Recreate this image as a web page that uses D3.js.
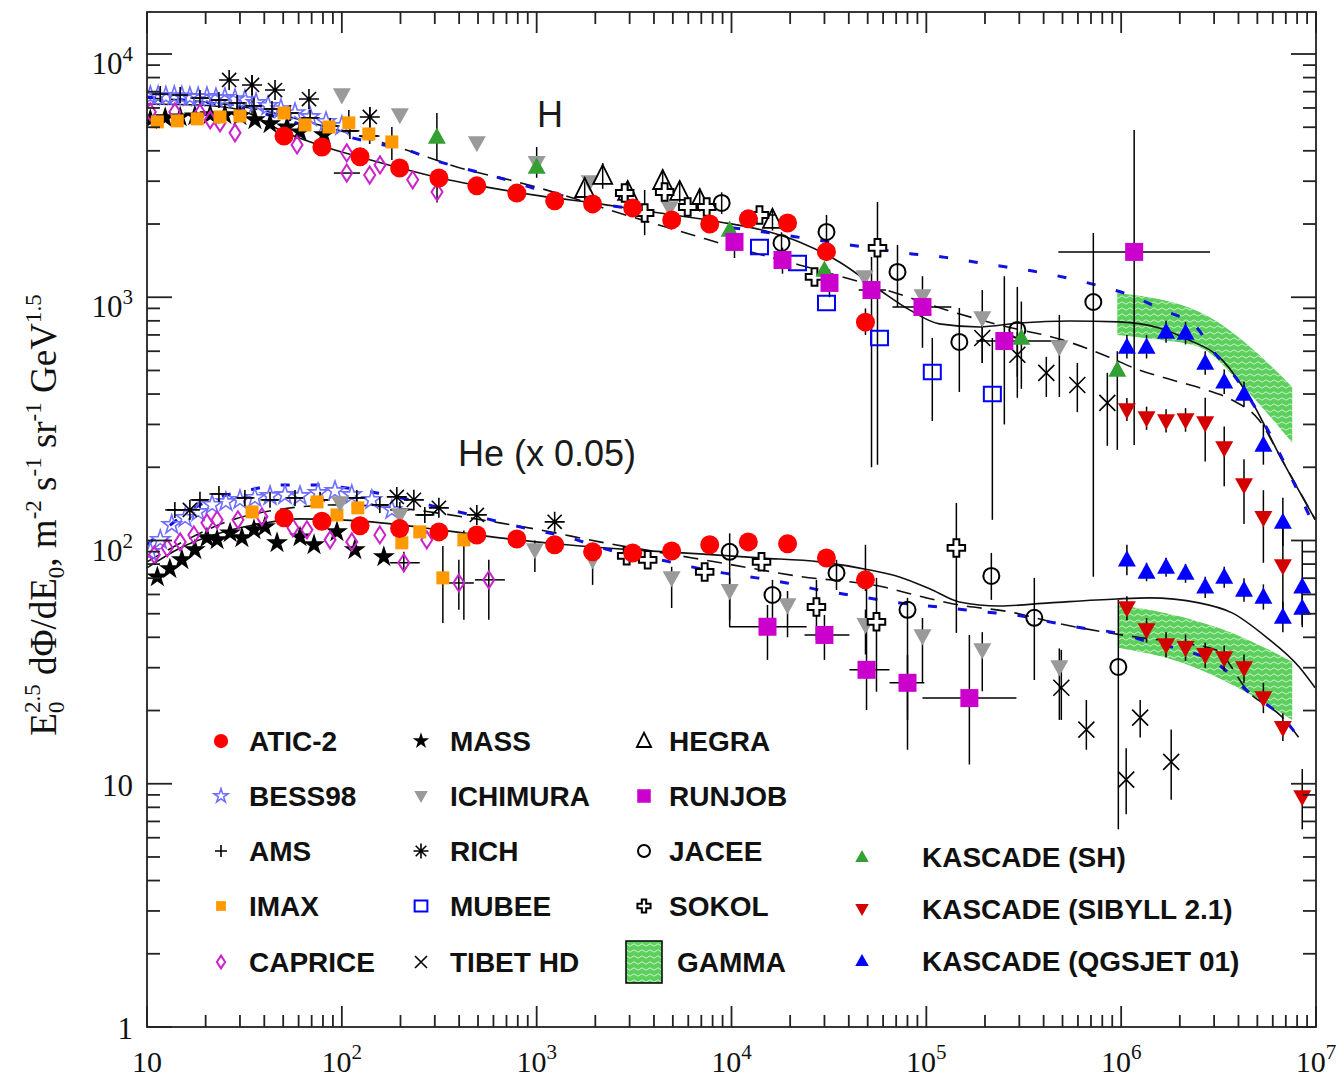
<!DOCTYPE html>
<html><head><meta charset="utf-8">
<script src="https://cdn.jsdelivr.net/npm/d3@7"></script>
<style>body{margin:0;background:#fff}</style>
</head><body>
<svg id="chart" width="1344" height="1082"></svg>
<script>
// Proton (H) and helium (He, scaled x 0.05) spectra, E^2.5 dPhi/dE in m^-2 s^-1 sr^-1 GeV^1.5
// point layout: [E (GeV), flux, fluxLow, fluxHigh, eLow, eHigh]

const xTickPowers = [1, 2, 3, 4, 5, 6, 7];
const yTickPowers = [0, 1, 2, 3, 4];

const aticH = [[50.5,4600],[79,4150],[124,3780],[198,3400],[315,3090],[493,2870],[791,2680],[1237,2490],[1937,2420],[3110,2330],[4930,2080],[7730,2000],[12200,2100],[19400,2020,1880,2180],[30700,1540,1420,1690],[48700,790,700,900]];
const aticHe = [[50.5,124],[79,120],[124,115],[198,112],[315,108.5],[493,105.4],[791,101.5],[1237,96],[1937,89.8],[3110,88.9],[4930,90.6,86,96],[7730,96,90,102],[12200,98.7,92,106],[19400,96.9,90,104],[30700,84.8,78,92],[48700,68.9,62,96]];

const bessH = [[10.4,6720],[11.4,6720],[12.5,6690],[13.8,6720],[15.1,6700],[16.6,6660],[18.3,6640],[20.3,6660],[22.6,6590],[25.1,6600],[28.3,6530],[31.8,6470],[36.3,6290],[41.8,6120],[48.7,5940],[57.5,5720],[68.7,5510],[83,5260],[100,5060]];
const bessHe = [[10.4,89.8],[11.7,100.6],[13.4,116],[15.7,123.9],[18.3,131.1],[21.6,140.1],[25.4,144.1],[30,146.9],[35.8,149.7],[42.8,152.5],[51.1,154],[61,152.5],[75.5,156.9],[92.2,159.9],[112.5,154],[142.6,146.9],[180.6,133.6]];

const amsH = [[11.7,6850,null,null,10.5,13.1],[14.8,6780,null,null,13.2,16.6],[18.7,6590,null,null,16.7,20.9],[23.4,6470,null,null,20.9,26.2],[29,6290,null,null,25.9,32.5],[35.4,6120,null,null,31.6,39.6],[43.8,5940,null,null,39.1,49],[54.2,5720,null,null,48.4,60.7],[68.7,5460,null,null,61.3,77],[87,5060,null,null,77.7,97.4],[110,4830,null,null,98.2,123],[139,4600,null,null,124,156]];
const amsHe = [[13.9,133.6,null,null,12.4,15.6],[18.7,146.9,null,null,16.7,20.9],[23.4,155.4,null,null,20.9,26.2],[31.8,149.7,null,null,28.4,35.6],[42.8,146.9,null,null,38.2,47.9],[57.5,149.7,null,null,51.3,64.4],[77.3,146.9,null,null,69,86.6],[119.4,149.7,null,null,106.6,133.7],[156.7,140.1,null,null,140,175.5],[198.5,133.6,null,null,177,222],[266.6,127.4,null,null,238,298.6]];

const massH = [[10.4,5360],[12.4,5460],[14.8,5510],[17.6,5560],[21.1,5620],[25.1,5620],[30,5560],[35.8,5360],[42.8,5160],[52.3,5010],[61,4780],[81,4650]];
const massHe = [[11.3,70.8],[13.1,76.4],[15.1,83.3],[17.6,91.5],[20.3,102.5],[22.9,100.6],[26.7,107.4],[30.7,102.5],[35.4,110.6],[40.3,113.8],[46.5,97.8],[61,103.4],[72,96],[94.4,108.5],[116.6,91.5],[164.3,85.7]];

const richH = [[26.4,7820],[34.6,7460,5620,8200],[45.4,7110],[67.8,6530],[139.2,5510,4780,6060]];
const richHe = [[16.6,133.6],[191.5,151.1],[234.2,146.9],[314.8,136.2],[493,127.4],[1237,119.3]];

const imaxH = [[11.3,5260],[14.3,5310],[18.1,5410],[23.7,5510],[30,5560],[50.5,5720],[64.7,5110],[85.9,5010],[108.6,5210,null,5890],[137.6,4690],[180.6,4350,3670,5010]];
const imaxHe = [[34.6,131.1],[74.6,144.1],[94.4,127.4],[120.8,136.2],[203.2,97.8],[251.3,108.5],[330,70.2,45.8,95],[423,100.6,47.2,110]];

const capriceH = [[10.4,5780],[13.9,5780],[18.7,5720],[21.1,5360],[23.7,5210],[28.3,4740],[58.9,4230],[106,3920],[106,3240,null,null,91,124],[139,3180],[157,3500],[231,3040],[308,2710,2450,3090]];
const capriceHe = [[10.9,87.3],[12.7,93.2],[14.8,98.7],[17.4,105.4],[20.3,118.2],[22.9,121.6],[29.3,121.6],[38.9,125.1],[56.1,112.8],[66.2,110.6],[87,100.6],[112.5,98.7],[156.7,105.4],[208,81,74,90,177,251],[272.9,100.6],[398.6,66.9,51.9,83.3,346,476],[568,68.9,47.2,83.3,482,687]];

const ichimuraH = [[100,6780],[198.5,5620],[493,4310],[1000,3570],[1871,2980],[4816,2330],[48160,1212],[95540,1012],[193700,822,537,1070],[481600,625,389,846]];
const ichimuraHe = [[97.9,142.7],[198.5,127.4],[979,91.5,74.3,100],[1937,83.3,65.7,92],[4930,70.2,52.8,78],[9786,62.1,47,70],[19390,54.3,40,62],[48730,45,34,52],[95540,40.5,26,48],[193700,35.5,24,42],[481600,30.2,18.3,36]];

const hegraH = [[1764,2786,2500,3100],[2182,3152,2790,3560],[2931,2709,2450,3000],[4433,3006,2700,3350],[5420,2709,2450,3000],[6867,2511,2250,2800],[16230,2080,1880,2300]];

const runjobH = [[10360,1688,1450,1900],[18270,1423,1250,1600],[31840,1145,1000,1300],[52320,1071,200,1465,45000,62000],[95540,912,620,1220,67000,134400],[251400,661,300,1220,180600,481600],[1166000,1536,247,4870,476000,2860000]];
const runjobHe = [[15300,44.2,32.3,54.3,9786,24300],[29990,40.9,32.3,49.4,23700,40300],[49320,29.4,20.1,68.9,40300,64700],[80050,26,13.8,33.9,64700,97700],[166300,22.5,12,40.9,95540,290000]];

const jaceeH = [[8903,2441,2200,2700],[18060,1672,1500,1850],[30730,1855,1600,2180],[71120,1271,912,1641],[147700,655,408,904],[293100,734,386,1103],[719700,956,71,1837]];
const jaceeHe = [[9786,89.8,44,107],[16230,59.7,47.2,68.9],[34590,73.6,62.6,83.3],[80050,51.9,18.3,58.1],[215600,71.5,57,88.9],[358300,48.1,26.7,70.2],[967000,30.2,6.5,57]];

const sokolH = [[2830,2683],[3583,2220,1800,2760],[4538,2709],[5958,2349],[7459,2349],[13920,2179,null,null,12000,16800],[26670,1212],[56140,1596,205,2465]];
const sokolHe = [[2897,86.5],[3714,83.3],[7283,74.3],[14260,81.7],[27290,53.3,39,68.9],[55480,46.3,23.9,70.2],[142600,93.2,41.7,142.7]];

const mubeeH = [[13920,1610],[21820,1383],[30730,947],[57500,680],[107300,493,310,680],[218200,400,121.6,680]];

const tibetH = [[193700,680,537,850],[293100,580,470,720],[412900,489,389,569],[595700,436,337,537],[849100,368,245,489]];
const tibetHe = [[493000,24.8,18.3,35.5],[662700,16.7,13.8,22.1],[1061000,10.4,7.5,14],[1252000,18.7,15.5,22.1],[1806000,12.3,8.6,16.7]];

const kascadeShH = [[307.5,4560,3630,5723],[1000,3433,3100,4147],[9786,1891],[29990,1295],[307400,680,420,960],[955400,502,236,600]];

const qgsjetH = [[1.07e6,625,560,700],[1.35e6,625,560,700],[1.7e6,720,650,800],[2.14e6,713,640,790],[2.7e6,537,480,600],[3.38e6,449,400,505],[4.27e6,400,355,450],[5.37e6,247,205,300],[6.76e6,119,95,150],[8.5e6,64.5,45,100]];
const qgsjetHe = [[1.07e6,83.3,72,96],[1.35e6,74.3,68,81],[1.7e6,77.9,71,85],[2.14e6,73.6,67,80],[2.7e6,64.5,58,71],[3.38e6,70.8,64,78],[4.27e6,62.6,56,70],[5.37e6,58.6,52,66],[6.76e6,48.5,42,56],[8.5e6,52.8,44,62]];
const sibyllH = [[1.07e6,344,310,385],[1.35e6,319,285,355],[1.7e6,310,278,346],[2.14e6,313,280,350],[2.7e6,304,211,386],[3.38e6,240,167,294],[4.27e6,169,117,216],[5.37e6,124,81,161],[6.76e6,78.6,50,120]];
const sibyllHe = [[1.07e6,52.8,47,59],[1.35e6,42.9,38,48],[1.7e6,37.2,33,42],[2.14e6,36.2,32,41],[2.7e6,33.9,30,38],[3.38e6,32.9,29,37],[4.27e6,29.9,26,34],[5.37e6,22.5,19.5,26],[6.76e6,17,15,19.5],[8.5e6,8.83,6.5,11.5]];

// GAMMA allowed bands: upper and lower edges [E, flux]
const gammaHUpper = [[9.55e5,1041],[2.51e6,871],[3.58e6,734],[5.1e6,580],[7.55e6,428]];
const gammaHLower = [[9.55e5,700],[1.57e6,668],[2.51e6,625],[4.38e6,416],[7.55e6,252]];
const gammaHeUpper = [[9.67e5,54.3],[2.06e6,48.5],[3.71e6,41.7],[7.55e6,31.7]];
const gammaHeLower = [[9.67e5,36.2],[2.06e6,31.4],[3.71e6,25.5],[7.55e6,18.3]];

// model curves [E, flux]
const solidH = [[10,6230],[18.7,6170],[30,5890],[50.5,4780],[79.1,4190],[123.7,3770],[198.5,3400],[318.5,3090],[511,2870],[1040,2610],[2105,2420],[4277,2220],[8690,2040],[15670,1855],[22300,1688],[35800,1396],[57500,1071],[82000,887],[116600,777],[187000,755],[300000,784],[542000,799],[979000,792],[1567000,748],[2230000,667],[3180000,569],[4540000,389],[6700000,214],[9900000,122]];
const dashH = [[10,6590],[33.8,6000],[87,4970],[198.5,4110],[438,3340],[728,3035],[1530,2560],[2370,2284],[6310,1803],[10100,1610],[22300,1358],[62500,1071],[126600,887],[237000,769],[499000,668],[837000,574],[1237000,502],[1827000,457],[2730000,416],[3710000,378],[5100000,313],[6700000,214],[9900000,122]];
const blueH = [[10,6656],[33.8,5888],[61,5158],[146,4307],[215.6,4031],[307.5,3632],[454,3337],[647,3093],[954,2813],[1313,2632],[1916,2441],[2897,2327],[4130,2179],[5890,2080],[8690,1963],[12370,1891],[27290,1720],[40340,1641],[84460,1507],[120800,1465],[176400,1396],[257400,1331],[371300,1271],[555000,1189],[807000,1103],[1139000,1012],[1623000,887],[2426000,755],[2930000,607],[3710000,489],[5550000,293],[7360000,186],[9300000,125]];

const solidHe = [[10,77.2],[14.8,93.2],[23.7,107.4],[38,117.1],[61,122.7],[123.7,120.4],[318.5,110.6],[647,102.5],[1425,96],[3110,91.5],[6867,88.1],[13920,84.8],[28300,81.7],[51100,75.7],[72800,70.8],[107300,62.6],[147700,55.9],[237000,53.8],[428000,55.4],[944000,57.5],[1392000,58.1],[2510000,55.4],[3710000,50.4],[5550000,40.1],[8200000,30.2],[9900000,24.8]];
const dashHe = [[10,81.7],[33.8,127.4],[97.9,140.1],[647,118.2],[1036,110.6],[2105,98.7],[6310,84.8],[10100,79.4],[21560,71.5],[59600,64.5],[100000,58.1],[147700,54.3],[267000,50.9],[464000,45.8],[807000,42.1],[1195000,40.1],[2060000,37.9],[3070000,35.5],[4540000,23.7],[6700000,18.8],[8470000,14.9]];
const blueHe = [[10,96],[18.7,140.1],[33.8,161.4],[49.3,169.3],[72,169.3],[106.3,164.4],[151.5,156.9],[223.4,146.9],[318.5,136.2],[465,127.4],[670,118.2],[955.6,110.6],[1443,103.4],[2056,94.2],[3002,87.3],[4280,83.3],[6247,77.9],[9012,73.6],[13470,70.2],[19200,66.9],[28370,62.6],[40440,59.7],[89270,54.3],[131300,52.8],[194000,50.9],[290000,49.4],[428000,46.3],[632000,43.7],[945000,41.7],[1392000,38.3],[2060000,35.5],[3070000,31.4],[4540000,23.7],[6700000,18.8],[8470000,14.9]];

// ---------------------------------------------------------------------------
const svg = d3.select('#chart');
const frame = {left: 147, right: 1316, top: 12, bottom: 1027};
const x = d3.scaleLog().domain([10, 1e7]).range([frame.left, frame.right]);
const y = d3.scaleLog().domain([1, 1e4]).range([frame.bottom, 54]);

const serif = '"Liberation Serif","Times New Roman",serif';
const sans = '"Liberation Sans",Arial,sans-serif';

// hatch used for the GAMMA bands
const defs = svg.append('defs');
const pat = defs.append('pattern').attr('id', 'gammaHatch')
  .attr('width', 8).attr('height', 6).attr('patternUnits', 'userSpaceOnUse');
pat.append('rect').attr('width', 8).attr('height', 6).attr('fill', '#5ccf5c');
pat.append('path').attr('d', 'M0,3 Q2,0.6 4,3 T8,3').attr('fill', 'none')
  .attr('stroke', '#c9f2c9').attr('stroke-width', 1);
defs.append('clipPath').attr('id', 'plotClip').append('rect')
  .attr('x', frame.left).attr('y', frame.top)
  .attr('width', frame.right - frame.left).attr('height', frame.bottom - frame.top);

const plotG = svg.append('g').attr('clip-path', 'url(#plotClip)');

// bands
function band(upper, lower) {
  const line = d3.line().x(d => x(d[0])).y(d => y(d[1])).curve(d3.curveMonotoneX);
  const up = line(upper);
  const low = line(lower.slice().reverse());
  plotG.append('path').attr('d', up + 'L' + low.slice(1) + 'Z')
    .attr('fill', 'url(#gammaHatch)').attr('stroke', 'none');
}
band(gammaHUpper, gammaHLower);
band(gammaHeUpper, gammaHeLower);

// model curves
const curve = d3.line().x(d => x(d[0])).y(d => y(d[1])).curve(d3.curveMonotoneX);
[[solidH, 'solid'], [solidHe, 'solid'], [dashH, 'dash'], [dashHe, 'dash'], [blueH, 'blue'], [blueHe, 'blue']]
  .forEach(([data, kind]) => {
    const p = plotG.append('path').attr('d', curve(data)).attr('fill', 'none');
    if (kind === 'solid') p.attr('stroke', '#111').attr('stroke-width', 1.6);
    if (kind === 'dash') p.attr('stroke', '#111').attr('stroke-width', 1.6).attr('stroke-dasharray', '15,9');
    if (kind === 'blue') p.attr('stroke', '#1010e0').attr('stroke-width', 3).attr('stroke-dasharray', '9,21');
  });

// marker styles
const styles = {
  atic:    {shape: 'circle', s: 9.5, fill: '#ff0000'},
  bess:    {shape: 'starOpen', s: 110, stroke: '#6f6fff'},
  ams:     {shape: 'plus', s: 8, stroke: '#000'},
  imax:    {shape: 'square', s: 6.5, fill: '#ff9900'},
  caprice: {shape: 'diamond', s: 5.5, stroke: '#cc22cc'},
  mass:    {shape: 'star', s: 150, fill: '#000'},
  ichimura:{shape: 'triDown', s: 9, fill: '#9a9a9a'},
  rich:    {shape: 'asterisk', s: 10, stroke: '#000'},
  mubee:   {shape: 'squareOpen', s: 8.5, stroke: '#0000ff'},
  tibet:   {shape: 'xcross', s: 8, stroke: '#000'},
  hegra:   {shape: 'triOpen', s: 10, stroke: '#000'},
  runjob:  {shape: 'square', s: 9, fill: '#cc00cc'},
  jacee:   {shape: 'circleOpen', s: 8, stroke: '#000'},
  sokol:   {shape: 'crossOpen', s: 170, stroke: '#000'},
  ksh:     {shape: 'triUp', s: 9, fill: '#33a033'},
  sibyll:  {shape: 'triDown', s: 9, fill: '#d40000'},
  qgsjet:  {shape: 'triUp', s: 9, fill: '#0000ff'}
};

function marker(sel, st, cx, cy, k) {
  const g = sel.append('g').attr('transform', `translate(${cx},${cy}) scale(${k || 1})`);
  const s = st.s;
  const line = (d) => g.append('path').attr('d', d).attr('stroke', st.stroke).attr('stroke-width', 1.6)
    .attr('fill', 'none').attr('vector-effect', 'non-scaling-stroke');
  switch (st.shape) {
    case 'circle': g.append('circle').attr('r', s).attr('fill', st.fill); break;
    case 'circleOpen': g.append('circle').attr('r', s).attr('fill', 'none').attr('stroke', st.stroke)
      .attr('stroke-width', 2).attr('vector-effect', 'non-scaling-stroke'); break;
    case 'square': g.append('rect').attr('x', -s).attr('y', -s).attr('width', 2 * s).attr('height', 2 * s).attr('fill', st.fill); break;
    case 'squareOpen': g.append('rect').attr('x', -s).attr('y', -s * 0.85).attr('width', 2 * s).attr('height', 1.7 * s)
      .attr('fill', 'none').attr('stroke', st.stroke).attr('stroke-width', 2).attr('vector-effect', 'non-scaling-stroke'); break;
    case 'diamond': g.append('path').attr('d', `M0,${-s * 1.55}L${s},0L0,${s * 1.55}L${-s},0Z`)
      .attr('fill', 'none').attr('stroke', st.stroke).attr('stroke-width', 2).attr('vector-effect', 'non-scaling-stroke'); break;
    case 'triUp': g.append('path').attr('d', `M0,${-s * 1.05}L${s},${s * 0.75}L${-s},${s * 0.75}Z`).attr('fill', st.fill); break;
    case 'triDown': g.append('path').attr('d', `M0,${s * 1.05}L${s},${-s * 0.75}L${-s},${-s * 0.75}Z`).attr('fill', st.fill); break;
    case 'triOpen': g.append('path').attr('d', `M0,${-s * 1.1}L${s * 0.95},${s * 0.8}L${-s * 0.95},${s * 0.8}Z`)
      .attr('fill', 'none').attr('stroke', st.stroke).attr('stroke-width', 1.8).attr('vector-effect', 'non-scaling-stroke'); break;
    case 'star': g.append('path').attr('d', d3.symbol(d3.symbolStar, s)()).attr('fill', st.fill); break;
    case 'starOpen': g.append('path').attr('d', d3.symbol(d3.symbolStar, s)()).attr('fill', 'none')
      .attr('stroke', st.stroke).attr('stroke-width', 1.6).attr('vector-effect', 'non-scaling-stroke'); break;
    case 'crossOpen': g.append('path').attr('d', d3.symbol(d3.symbolCross, s)()).attr('fill', '#fff')
      .attr('stroke', st.stroke).attr('stroke-width', 2).attr('vector-effect', 'non-scaling-stroke'); break;
    case 'plus': line(`M${-s},0H${s}M0,${-s}V${s}`); break;
    case 'xcross': line(`M${-s},${-s}L${s},${s}M${-s},${s}L${s},${-s}`); break;
    case 'asterisk': {
      const d = s * 0.7071;
      line(`M${-s},0H${s}M0,${-s}V${s}M${-d},${-d}L${d},${d}M${-d},${d}L${d},${-d}`);
      break;
    }
  }
}

// draw order: later entries sit on top
const series = [
  ['bess', [bessH, bessHe]], ['ams', [amsH, amsHe]], ['mass', [massH, massHe]], ['caprice', [capriceH, capriceHe]],
  ['imax', [imaxH, imaxHe]], ['rich', [richH, richHe]], ['ichimura', [ichimuraH, ichimuraHe]], ['hegra', [hegraH]],
  ['sokol', [sokolH, sokolHe]], ['jacee', [jaceeH, jaceeHe]], ['mubee', [mubeeH]], ['tibet', [tibetH, tibetHe]],
  ['ksh', [kascadeShH]], ['runjob', [runjobH, runjobHe]], ['atic', [aticH, aticHe]],
  ['sibyll', [sibyllH, sibyllHe]], ['qgsjet', [qgsjetH, qgsjetHe]]
];

const errG = plotG.append('g').attr('stroke', '#000').attr('stroke-width', 1.5);
series.forEach(([key, sets]) => sets.forEach(data => data.forEach(p => {
  if (p[2] != null || p[3] != null) {
    const lo = p[2] != null ? p[2] : p[1], hi = p[3] != null ? p[3] : p[1];
    errG.append('line').attr('x1', x(p[0])).attr('x2', x(p[0])).attr('y1', y(lo)).attr('y2', y(hi));
  }
  if (p[4] != null) {
    errG.append('line').attr('x1', x(p[4])).attr('x2', x(p[5])).attr('y1', y(p[1])).attr('y2', y(p[1]));
  }
})));

const markG = plotG.append('g');
series.forEach(([key, sets]) => sets.forEach(data => data.forEach(p => {
  marker(markG, styles[key], x(p[0]), y(p[1]));
})));

// frame and ticks
const axG = svg.append('g').attr('stroke', '#222').attr('stroke-width', 1.8);
axG.append('rect').attr('x', frame.left).attr('y', frame.top)
  .attr('width', frame.right - frame.left).attr('height', frame.bottom - frame.top).attr('fill', 'none');

const xt = [];
for (let p = 1; p < 7; p++) for (let k = 1; k <= 9; k++) xt.push([k * Math.pow(10, p), k === 1]);
xt.push([1e7, true]);
xt.forEach(([v, major]) => {
  const px = x(v);
  const lb = major ? 21 : 12, lt = major ? 21 : 12;
  axG.append('line').attr('x1', px).attr('x2', px).attr('y1', frame.bottom).attr('y2', frame.bottom - lb);
  axG.append('line').attr('x1', px).attr('x2', px).attr('y1', frame.top).attr('y2', frame.top + lt);
});
const yt = [];
for (let p = 0; p < 4; p++) for (let k = 1; k <= 9; k++) yt.push([k * Math.pow(10, p), k === 1]);
yt.push([1e4, true]);
yt.forEach(([v, major]) => {
  const py = y(v);
  const l = major ? 25 : 13;
  axG.append('line').attr('x1', frame.left).attr('x2', frame.left + l).attr('y1', py).attr('y2', py);
  axG.append('line').attr('x1', frame.right).attr('x2', frame.right - l).attr('y1', py).attr('y2', py);
});

// tick labels
function powLabel(sel, p) {
  if (p === 0) { sel.text('1'); return; }
  sel.append('tspan').text('10');
  if (p > 1) sel.append('tspan').attr('font-size', 21).attr('dy', -13).text(p);
}
xTickPowers.forEach(p => {
  const t = svg.append('text').attr('x', x(Math.pow(10, p))).attr('y', 1072)
    .attr('text-anchor', 'middle').attr('font-family', serif).attr('font-size', 30).attr('fill', '#111');
  powLabel(t, p);
});
yTickPowers.forEach(p => {
  const t = svg.append('text').attr('x', 133).attr('y', y(Math.pow(10, p)) + (p > 1 ? 20 : 12))
    .attr('text-anchor', 'end').attr('font-family', serif).attr('font-size', 31).attr('fill', '#111');
  powLabel(t, p);
});

// y axis title
const yt2 = svg.append('text').attr('transform', 'translate(56,515) rotate(-90)')
  .attr('text-anchor', 'middle').attr('font-family', serif).attr('font-size', 37).attr('fill', '#111');
const sub = 23;
yt2.append('tspan').text('E');
yt2.append('tspan').attr('font-size', sub).attr('dy', 8).text('0');
yt2.append('tspan').attr('font-size', sub).attr('dx', -11.5).attr('dy', -24).text('2.5');
yt2.append('tspan').attr('dy', 16).text(' d\u03A6/dE');
yt2.append('tspan').attr('font-size', sub).attr('dy', 8).text('0');
yt2.append('tspan').attr('dy', -8).text(', m');
yt2.append('tspan').attr('font-size', sub).attr('dy', -15).text('-2');
yt2.append('tspan').attr('dy', 15).text(' s');
yt2.append('tspan').attr('font-size', sub).attr('dy', -15).text('-1');
yt2.append('tspan').attr('dy', 15).text(' sr');
yt2.append('tspan').attr('font-size', sub).attr('dy', -15).text('-1');
yt2.append('tspan').attr('dy', 15).text(' GeV');
yt2.append('tspan').attr('font-size', sub).attr('dy', -15).text('1.5');

// element labels
svg.append('text').attr('x', 537).attr('y', 127).attr('font-family', sans).attr('font-size', 36)
  .attr('fill', '#1a1a1a').text('H');
svg.append('text').attr('x', 458).attr('y', 466).attr('font-family', sans).attr('font-size', 36)
  .attr('fill', '#1a1a1a').text('He (x 0.05)');

// legend
const legendCols = [
  {sx: 221, tx: 249, rows: [741, 796, 851, 906, 962], items: [['atic', 'ATIC-2'], ['bess', 'BESS98'], ['ams', 'AMS'], ['imax', 'IMAX'], ['caprice', 'CAPRICE']]},
  {sx: 421, tx: 450, rows: [741, 796, 851, 906, 962], items: [['mass', 'MASS'], ['ichimura', 'ICHIMURA'], ['rich', 'RICH'], ['mubee', 'MUBEE'], ['tibet', 'TIBET HD']]},
  {sx: 644, tx: 669, rows: [741, 796, 851, 906, 962], items: [['hegra', 'HEGRA'], ['runjob', 'RUNJOB'], ['jacee', 'JACEE'], ['sokol', 'SOKOL'], ['gamma', 'GAMMA']]},
  {sx: 862, tx: 922, rows: [857, 909, 961], items: [['ksh', 'KASCADE (SH)'], ['sibyll', 'KASCADE (SIBYLL 2.1)'], ['qgsjet', 'KASCADE (QGSJET 01)']]}
];
const legG = svg.append('g');
legendCols.forEach(col => col.items.forEach(([key, label], i) => {
  const cy = col.rows[i];
  if (key === 'gamma') {
    legG.append('rect').attr('x', col.sx - 18).attr('y', cy - 21).attr('width', 36).attr('height', 42)
      .attr('fill', 'url(#gammaHatch)').attr('stroke', '#000').attr('stroke-width', 1.5);
  } else {
    marker(legG, styles[key], col.sx, cy, 0.75);
  }
  legG.append('text').attr('x', col.tx + (key === 'gamma' ? 8 : 0)).attr('y', cy + 10)
    .attr('font-family', sans).attr('font-weight', 'bold').attr('font-size', 28).attr('fill', '#111').text(label);
}));
</script>
</body></html>
